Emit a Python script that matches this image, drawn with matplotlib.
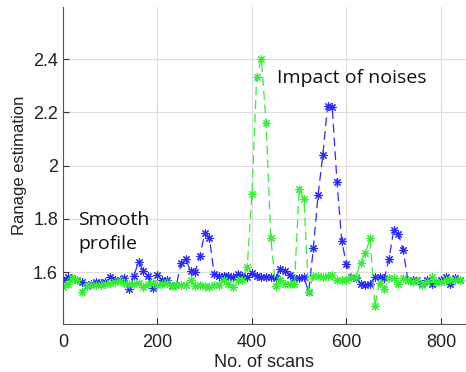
import numpy as np
import matplotlib
matplotlib.use("Agg")
import matplotlib.pyplot as plt

scans = np.arange(0, 850, 10)

smooth_est = [
    1.572, 1.580, 1.576, 1.572, 1.564, 1.547, 1.557, 1.564, 1.560, 1.564,
    1.580, 1.570, 1.572, 1.576, 1.535, 1.585, 1.638, 1.605, 1.585, 1.542,
    1.589, 1.570, 1.570, 1.547, 1.551, 1.633, 1.649, 1.605, 1.601, 1.661,
    1.745, 1.729, 1.592, 1.587, 1.585, 1.585, 1.580, 1.592, 1.585, 1.580,
    1.597, 1.585, 1.582, 1.582, 1.580, 1.576, 1.610, 1.605, 1.589, 1.576,
    1.576, 1.582, 1.525, 1.689, 1.890, 2.039, 2.222, 2.219, 1.938, 1.718,
    1.629, 1.582, 1.576, 1.557, 1.550, 1.557, 1.580, 1.580, 1.576, 1.648,
    1.758, 1.743, 1.683, 1.570, 1.570, 1.572, 1.557, 1.570, 1.557, 1.564,
    1.572, 1.580, 1.555, 1.576, 1.572,
]

noisy_est = [
    1.545, 1.557, 1.576, 1.570, 1.526, 1.547, 1.551, 1.551, 1.551, 1.555,
    1.560, 1.564, 1.567, 1.560, 1.555, 1.557, 1.560, 1.545, 1.557, 1.560,
    1.551, 1.557, 1.560, 1.547, 1.550, 1.551, 1.551, 1.570, 1.547, 1.550,
    1.547, 1.545, 1.551, 1.551, 1.570, 1.555, 1.545, 1.570, 1.570, 1.618,
    1.893, 2.332, 2.400, 2.161, 1.727, 1.547, 1.570, 1.555, 1.557, 1.555,
    1.911, 1.873, 1.526, 1.585, 1.585, 1.582, 1.587, 1.589, 1.572, 1.572,
    1.572, 1.582, 1.582, 1.633, 1.670, 1.727, 1.472, 1.560, 1.535, 1.576,
    1.576, 1.555, 1.576, 1.570, 1.564, 1.570, 1.551, 1.564, 1.580, 1.564,
    1.564, 1.572, 1.570, 1.572, 1.570,
]

plt.rcParams["font.family"] = ["Liberation Sans", "DejaVu Sans"]

fig = plt.figure(figsize=(4.66, 3.72), dpi=100)
ax = fig.add_axes([0.135, 0.129, 0.865, 0.852])

ax.plot(scans, smooth_est, linestyle="--", color="#2a2aff", linewidth=0.9,
        marker=(8, 2, 0), markersize=6, markeredgewidth=0.8, dashes=(7, 4))
ax.plot(scans, noisy_est, linestyle="--", color="#33ee33", linewidth=0.9,
        marker=(8, 2, 0), markersize=6, markeredgewidth=0.8, dashes=(7, 4))

ax.set_xlim(0, 853)
ax.set_ylim(1.405, 2.595)
ax.set_xticks([0, 200, 400, 600, 800])
ax.set_yticks([1.6, 1.8, 2.0, 2.2, 2.4])
ax.set_yticklabels(["1.6", "1.8", "2", "2.2", "2.4"])
ax.grid(True, color="#dddddd", linewidth=0.8)
ax.set_axisbelow(True)
for side in ["top", "right"]:
    ax.spines[side].set_visible(False)
for side in ["left", "bottom"]:
    ax.spines[side].set_color("#555555")
ax.tick_params(direction="in", length=4, labelsize=13, colors="#333333",
               labelcolor="#222222")
ax.tick_params(axis="x", pad=7)

ax.set_xlabel("No. of scans", fontsize=13, color="#222222", labelpad=2)
ax.set_ylabel("Ranage estimation", fontsize=12, color="#222222", labelpad=4)

ax.text(32, 1.75, "Smooth\nprofile", fontsize=14, family=["Open Sans", "DejaVu Sans"],
        va="center", ha="left", linespacing=1.4, color="#111111")
ax.text(452, 2.33, "Impact of noises", fontsize=14, family=["Open Sans", "DejaVu Sans"],
        va="center", ha="left", color="#111111")

fig.savefig("out.png", dpi=100)
